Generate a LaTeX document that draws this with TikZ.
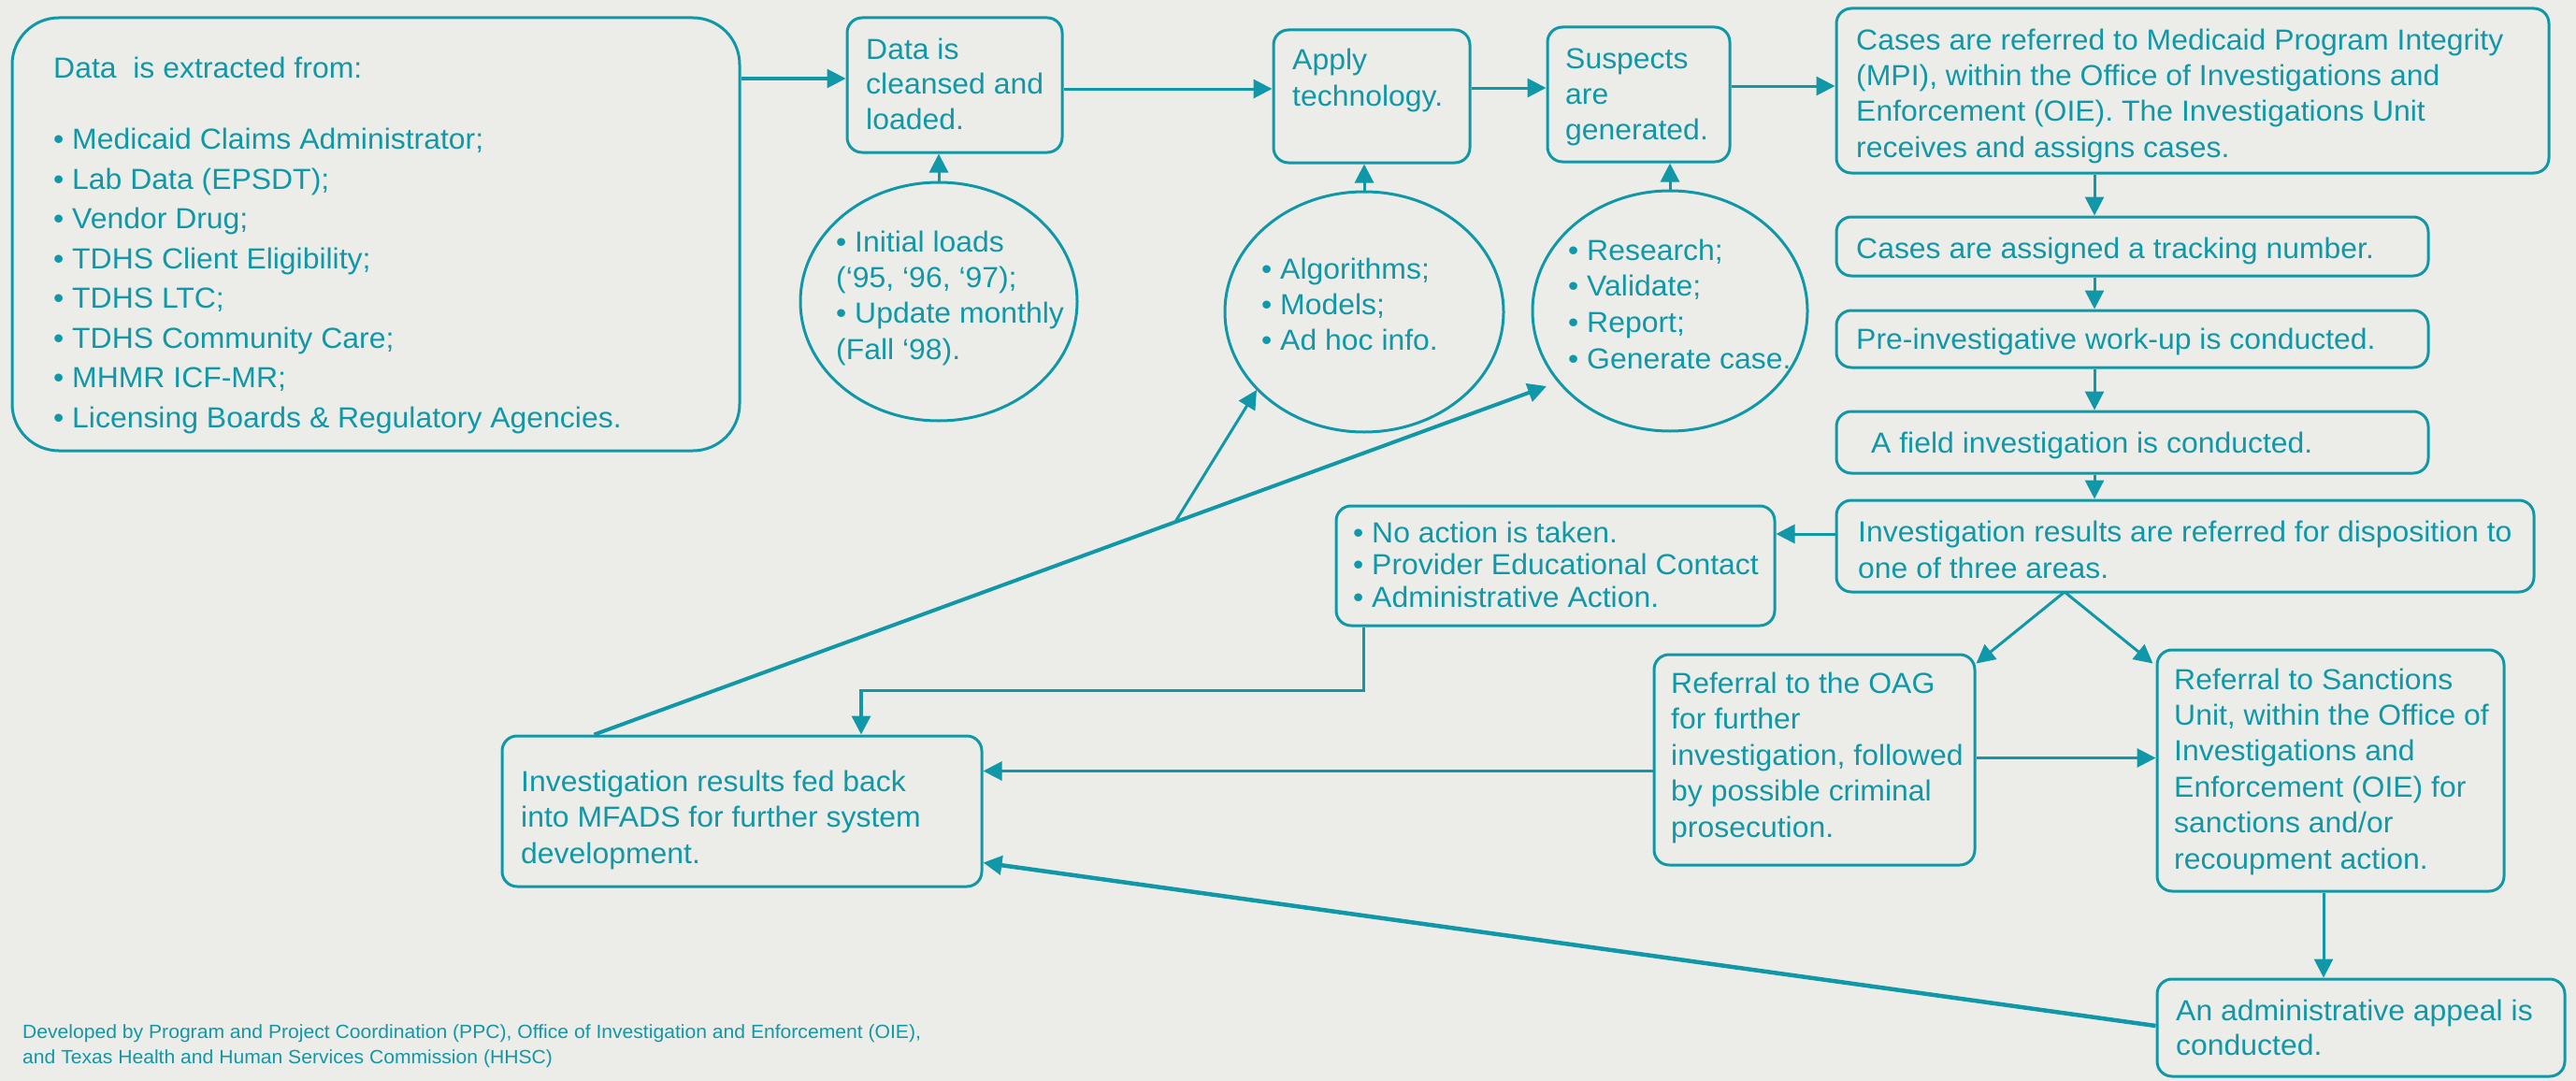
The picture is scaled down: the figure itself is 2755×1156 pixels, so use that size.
\documentclass[tikz,border=0pt]{standalone}
\usepackage{fontspec}
\setmainfont{Liberation Sans}[FakeStretch=1.03]
\usetikzlibrary{arrows.meta,shapes.geometric,calc}
\definecolor{tl}{RGB}{16,152,168}
\definecolor{paper}{RGB}{236,237,232}
\newcommand{\fsz}[1]{\fontsize{31}{#1}\selectfont}
\begin{document}
\begin{tikzpicture}[x=1pt,y=-1pt,
  box/.style={draw=tl, line width=3pt, rounded corners=16pt, inner sep=0pt},
  bub/.style={ellipse, draw=tl, line width=3pt, inner sep=0pt},
  txt/.style={anchor=north west, align=left, inner sep=0pt, text=tl},
  arr/.style={draw=tl, line width=3pt, -{Triangle[length=20pt,width=20pt]}},
  thk/.style={line width=4.5pt}]
\useasboundingbox (0,0) rectangle (2755,1156);
\fill[paper] (0,0) rectangle (2755,1156);

% boxes
\node[box, rounded corners=50pt, minimum width=778pt, minimum height=463pt] (B1) at (402,250.5) {};
\node[box, minimum width=230pt, minimum height=144pt] (B2) at (1021,91) {};
\node[box, minimum width=210pt, minimum height=142pt] (B3) at (1467,103) {};
\node[box, minimum width=195pt, minimum height=144pt] (B4) at (1752.5,101) {};
\node[box, minimum width=762pt, minimum height=176pt] (B5) at (2345,97) {};
\node[box, minimum width=633pt, minimum height=63pt] (B6) at (2280.5,263.5) {};
\node[box, minimum width=633pt, minimum height=61pt] (B7) at (2280.5,362.5) {};
\node[box, minimum width=633pt, minimum height=66pt] (B8) at (2280.5,473) {};
\node[box, minimum width=746pt, minimum height=98pt] (B9) at (2337,584) {};
\node[box, minimum width=469pt, minimum height=128pt] (B10) at (1663.5,605) {};
\node[box, minimum width=343pt, minimum height=225pt] (B11) at (1940.5,812.5) {};
\node[box, minimum width=371pt, minimum height=258pt] (B12) at (2492.5,824) {};
\node[box, minimum width=436pt, minimum height=104pt] (B13) at (2525,1099) {};
\node[box, minimum width=513pt, minimum height=161pt] (B14) at (793.5,867.5) {};

% bubbles
\node[bub, minimum width=296pt, minimum height=255pt] (EA) at (1004,322.5) {};
\node[bub, minimum width=298pt, minimum height=257pt] (EB) at (1459,333.5) {};
\node[bub, minimum width=294pt, minimum height=257pt] (EC) at (1786,332.5) {};

% texts
\node[txt, font=\fsz{42.5}] (T1) at (57,53.25) {\strut Data\ \ is extracted from:\\[34pt]
  • Medicaid Claims Administrator;\\• Lab Data (EPSDT);\\• Vendor Drug;\\
  • TDHS Client Eligibility;\\• TDHS LTC;\\• TDHS Community Care;\\
  • MHMR ICF-MR;\\• Licensing Boards \& Regulatory Agencies.};
\node[txt, font=\fsz{37.5}] (T2) at (926,36.75) {\strut Data is\\cleansed and\\loaded.};
\node[txt, font=\fsz{39}] (T3) at (1382,46.7) {\strut Apply\\technology.};
\node[txt, font=\fsz{38}] (T4) at (1674,46.4) {\strut Suspects\\are\\generated.};
\node[txt, font=\fsz{38.3}] (T5) at (1985,26.2) {\strut Cases are referred to Medicaid Program Integrity\\
  (MPI), within the Office of Investigations and\\Enforcement (OIE). The Investigations Unit\\
  receives and assigns cases.};
\node[txt, font=\fsz{38}] (T6) at (1985,249.4) {\strut Cases are assigned a tracking number.};
\node[txt, font=\fsz{38}] (T7) at (1985,346.4) {\strut Pre-investigative work-up is conducted.};
\node[txt, font=\fsz{38}] (T8) at (2001,457.4) {\strut A field investigation is conducted.};
\node[txt, font=\fsz{39}] (T9) at (1987,551.7) {\strut Investigation results are referred for disposition to\\one of three areas.};
\node[txt, font=\fsz{34.5}] (T10) at (1447,555.85) {\strut • No action is taken.\\• Provider Educational Contact\\• Administrative Action.};
\node[txt, font=\fsz{38.5}] (T11) at (1787,714.05) {\strut Referral to the OAG\\for further\\investigation, followed\\by possible criminal\\prosecution.};
\node[txt, font=\fsz{38.4}] (T12) at (2325,710.1) {\strut Referral to Sanctions\\Unit, within the Office of\\Investigations and\\Enforcement (OIE) for\\sanctions and/or\\recoupment action.};
\node[txt, font=\fsz{37}] (T13) at (2327,1065.1) {\strut An administrative appeal is\\conducted.};
\node[txt, font=\fsz{38.5}] (T14) at (557,819.05) {\strut Investigation results fed back\\into MFADS for further system\\development.};
\node[txt, font=\fsz{38.3}] (TA) at (894,242.2) {\strut • Initial loads\\(‘95, ‘96, ‘97);\\• Update monthly\\(Fall ‘98).};
\node[txt, font=\fsz{38}] (TB) at (1349,271.4) {\strut • Algorithms;\\• Models;\\• Ad hoc info.};
\node[txt, font=\fsz{38.7}] (TC) at (1677,250.9) {\strut • Research;\\• Validate;\\• Report;\\• Generate case.};
\node[txt, font=\fontsize{20.5}{27}\selectfont] (FT) at (24,1091.1) {\strut Developed by Program and Project Coordination (PPC), Office of Investigation and Enforcement (OIE),\\and Texas Health and Human Services Commission (HHSC)};

% connectors along the top
\draw[arr] ($(B1.east|-B2.west)+(0,-7)$) -- ($(B2.west)+(0,-7)$);
\draw[arr] ($(B2.east)+(0,4)$) -- ($(B2.east-|B3.west)+(0,4)$);
\draw[arr] ($(B3.east)+(0,-9)$) -- ($(B3.east-|B4.west)+(0,-9)$);
\draw[arr] ($(B4.east)+(0,-9)$) -- ($(B4.east-|B5.west)+(0,-9)$);
\draw[arr] (EA.north) -- (EA.north|-B2.south);
\draw[arr] (EB.north) -- (EB.north|-B3.south);
\draw[arr] (EC.north) -- (EC.north|-B4.south);

% right column
\coordinate (sp) at (2240,0);
\draw[arr] (B5.south-|sp) -- (B6.north-|sp);
\draw[arr] (B6.south-|sp) -- (B7.north-|sp);
\draw[arr] (B7.south-|sp) -- (B8.north-|sp);
\draw[arr] (B8.south-|sp) -- (B9.north-|sp);
\draw[arr] ($(B9.west)+(0,-13)$) -- ($(B9.west-|B10.east)+(0,-13)$);
\coordinate (fk) at (2208,633);
\draw[arr] (fk) -- ($(B11.north east)+(0,11)$);
\draw[arr] (fk) -- ($(B12.north west)+(-3,16)$);
\draw[arr] ($(B11.east)+(0,-2)$) -- ($(B11.east-|B12.west)+(0,-2)$);
\draw[arr] ($(B12.south)+(-7.5,0)$) -- ($(B12.south|-B13.north)+(-7.5,0)$);

% feedback
\draw[arr, line width=3.5pt] ($(B10.south west)+(31,0)$) -- ++(0,68) -| ($(B14.north)+(127.5,0)$);
\draw[arr] ($(B11.west)+(0,12)$) -- ($(B11.west-|B14.east)+(0,12)$);
\draw[arr, thk] ($(B13.west)+(0,-2)$) -- ($(B14.east)+(0,55)$);
\draw[arr, line width=4pt] ($(B14.north west)+(100,0)$) -- coordinate[pos=0.61] (br) ($(EC.center)+(-132,80.5)$);
\draw[arr] (br) -- ($(EB.center)+(-115,83.5)$);
\end{tikzpicture}
\end{document}
